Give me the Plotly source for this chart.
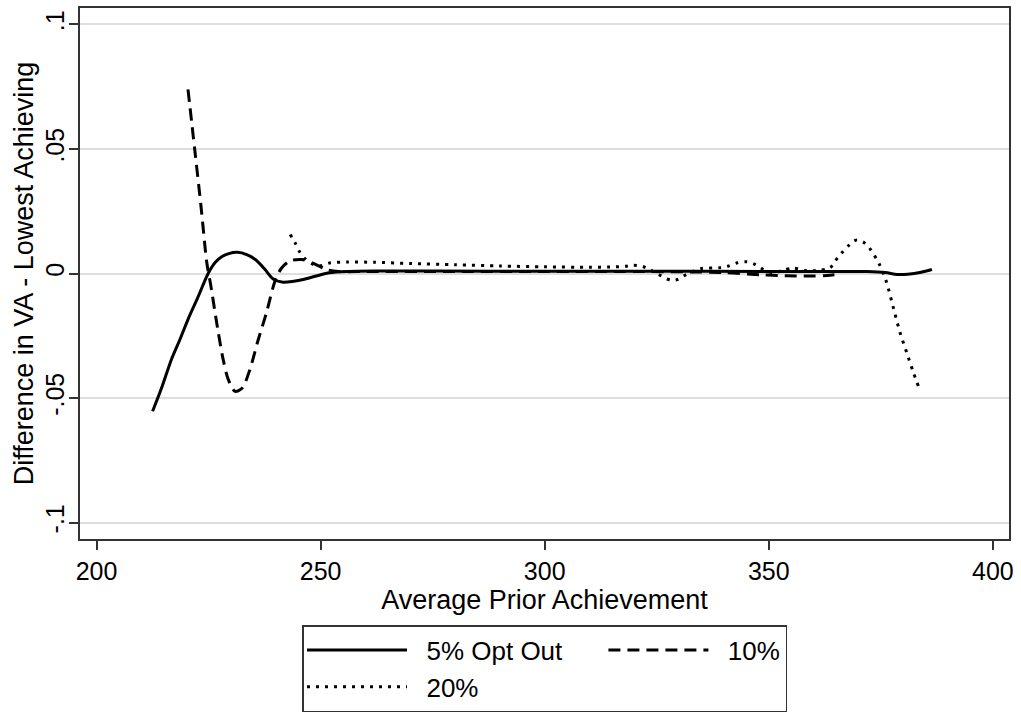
import plotly.graph_objects as go

# 5% Opt Out (solid)
x5 = [212.5, 214.5, 216.7, 218.6, 220.5, 222.5, 224.9, 226.5, 228, 229.5, 231.4, 233.5, 235.5, 237.5,
      239.4, 241.6, 244, 246.1, 249, 252, 256, 262, 275, 300, 325, 350, 365, 372, 376, 378.6, 381, 384, 386.4]
y5 = [-0.0553, -0.046, -0.0345, -0.0265, -0.018, -0.010, 0.0, 0.0045, 0.0068, 0.0080, 0.0085, 0.0076, 0.0055,
      0.0018, -0.0022, -0.0035, -0.0031, -0.0024, -0.0010, 0.0003, 0.0008, 0.0010, 0.0010, 0.0009, 0.0009,
      0.0008, 0.0008, 0.0008, 0.0004, -0.0004, -0.0003, 0.0005, 0.0016]

# 10% (dashed)
x10 = [220.4, 221.9, 223.3, 224.6, 225.5, 227, 228.3, 229.4, 230.9, 232.5, 234.2, 236, 237.9, 239.8, 241.2,
       243.1, 245.8, 248.5, 251.3, 254, 260, 280, 300, 320, 340, 348, 352, 356, 360, 363, 366]
y10 = [0.0739, 0.0498, 0.027, 0.0043, -0.005, -0.022, -0.035, -0.0426, -0.0473, -0.046, -0.0386, -0.027,
       -0.0158, -0.0031, 0.002, 0.005, 0.0056, 0.004, 0.0016, 0.0008, 0.0008, 0.0008, 0.0008, 0.0008, 0.0004,
       -0.0005, -0.0008, -0.0010, -0.0010, -0.0008, -0.0003]

# 20% (dotted)
x20 = [243.2, 244.3, 245.2, 246.5, 248.2, 250, 252, 256, 262, 270, 280, 290, 300, 310, 315.7, 318, 319.8,
       321.9, 323.5, 325.4, 327.3, 328.5, 329.6, 331, 333, 335, 339, 341, 343, 345, 347, 348.8, 351, 353,
       355.5, 358, 361, 363.7, 364.8, 366.3, 367.8, 369.5, 371.1, 372.6, 374.7, 376.2, 377.8, 379.3, 380.8,
       382.3, 383.4]
y20 = [0.0157, 0.0123, 0.009, 0.006, 0.0038, 0.0031, 0.0042, 0.0046, 0.0045, 0.004, 0.0035, 0.003, 0.0027,
       0.0025, 0.0027, 0.0029, 0.0033, 0.0028, 0.0015, -0.0004, -0.0022, -0.0027, -0.0024, -0.001, 0.0008,
       0.002, 0.0023, 0.003, 0.0043, 0.0047, 0.0036, 0.0016, 0.0002, 0.0012, 0.0022, 0.0012, 0.0012, 0.0023,
       0.005, 0.0083, 0.0112, 0.0134, 0.0126, 0.0099, 0.0036, -0.0031, -0.0138, -0.0238, -0.0319, -0.0399,
       -0.0453]

series_names = ["5% Opt Out", "10%", "20%"]
x_ticks = [200, 250, 300, 350, 400]
y_ticks = [-0.1, -0.05, 0, 0.05, 0.1]
y_ticklabels = ["-.1", "-.05", "0", ".05", ".1"]

FONT = "Liberation Sans, Arial, Helvetica, sans-serif"
NB = "\u00a0"

fig = go.Figure()
fig.add_trace(go.Scatter(x=x5, y=y5, mode="lines", name=NB * 2 + series_names[0] + NB * 5,
                         legendgroup="col1",
                         line=dict(color="black", width=3, shape="spline", smoothing=0.8)))
fig.add_trace(go.Scatter(x=x10, y=y10, mode="lines", name=NB * 2 + series_names[1],
                         legendgroup="col2",
                         line=dict(color="black", width=3, dash="12px,7px", shape="spline", smoothing=0.8)))
fig.add_trace(go.Scatter(x=x20, y=y20, mode="lines", name=NB * 2 + series_names[2],
                         legendgroup="col1",
                         line=dict(color="black", width=3, dash="3px,6px", shape="spline", smoothing=0.8)))

fig.update_layout(
    width=1021, height=714,
    margin=dict(l=80, r=12, t=8, b=175, autoexpand=False),
    paper_bgcolor="white", plot_bgcolor="white",
    font=dict(family=FONT, size=25, color="black"),
    showlegend=True,
    legend=dict(
        orientation="h", x=0.5, xanchor="center", y=-0.162, yanchor="top",
        bordercolor="#333333", borderwidth=1.5, bgcolor="white",
        font=dict(size=26, color="black"),
        itemwidth=100, tracegroupgap=0,
        traceorder="grouped",
    ),
    xaxis=dict(
        range=[196.3, 403.6], tickvals=x_ticks, ticks="outside", ticklen=9, tickwidth=1.5,
        tickcolor="#333333", showline=True, linecolor="#333333", linewidth=1.5, mirror=True,
        showgrid=False, zeroline=False,
        title=dict(text="Average Prior Achievement", font=dict(size=27), standoff=3),
    ),
    yaxis=dict(
        range=[-0.1066, 0.1066], tickvals=y_ticks, ticktext=y_ticklabels, tickangle=-90,
        ticks="outside", ticklen=9, tickwidth=1.5, tickcolor="#333333", ticklabelstandoff=-5,
        showline=True, linecolor="#333333", linewidth=1.5, mirror=True,
        showgrid=True, gridcolor="#dedede", gridwidth=2, zeroline=False,
        title=dict(text="Difference in VA - Lowest Achieving", font=dict(size=27), standoff=0),
    ),
)

fig.write_html("out.html")
